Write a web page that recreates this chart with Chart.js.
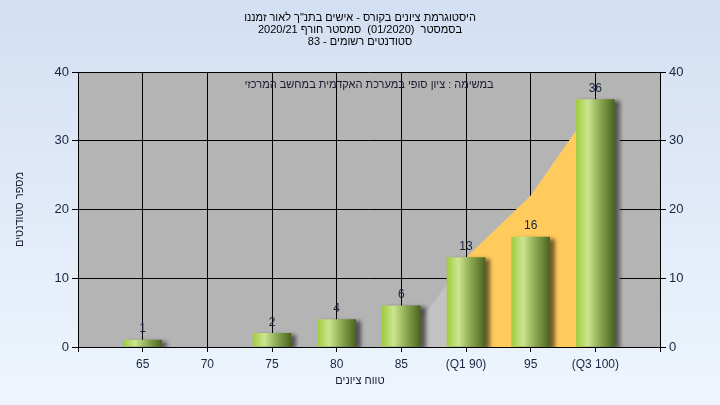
<!DOCTYPE html>
<html lang="he">
<head>
<meta charset="utf-8">
<title>היסטוגרמת ציונים</title>
<script src="https://cdn.jsdelivr.net/npm/chart.js@4.4.1/dist/chart.umd.min.js"></script>
<style>
  html, body { margin: 0; padding: 0; }
  body { width: 720px; height: 405px; overflow: hidden; background: linear-gradient(#d3dff2, #eef5fd); }
</style>
</head>
<body>
<canvas id="histChart" width="720" height="405"></canvas>
<script>
// נתוני ההיסטוגרמה
const scores = [65, 70, 75, 80, 85, 90, 95, 100];
const tickLabels = ['65', '70', '75', '80', '85', '(Q1 90)', '95', '(Q3 100)'];
const studentCounts = [1, 0, 2, 4, 6, 13, 16, 36];

// אזור צהוב (Q1-Q3) ומשטח אפור בהיר מאחוריו
const bandScores = [90, 95, 100];
const bandValues = [13, 22, 35.5];
const shadeScores = [85, 90, 95, 100, 101.9];
const shadeValues = [0, 13, 22, 35.5, 35];

const yTicks = [0, 10, 20, 30, 40];

const titleLines = [
  'היסטוגרמת ציונים בקורס - אישים בתנ"ך לאור זמננו',
  'בסמסטר  (01/2020)  סמסטר חורף 2020/21',
  'סטודנטים רשומים - 83'
];
const noteText = 'במשימה : ציון סופי במערכת האקדמית במחשב המרכזי';
const yTitle = 'מספר סטודנטים';
const xTitle = 'טווח ציונים';

const FONT = '"Liberation Sans", "DejaVu Sans", sans-serif';
const TICK_COLOR = '#1a2440';

function barGradient(ctx) {
  const chart = ctx.chart;
  if (ctx.type !== 'data' || !chart.chartArea) return '#9cc43c';
  const cx = chart.scales.x.getPixelForValue(scores[ctx.dataIndex]);
  const g = chart.ctx.createLinearGradient(cx - 19, 0, cx + 19, 0);
  g.addColorStop(0, '#a0cc40');
  g.addColorStop(0.3, '#cce590');
  g.addColorStop(0.6, '#8fae55');
  g.addColorStop(1, '#4a6420');
  return g;
}

// צל לעמודות
const barShadow = {
  id: 'barShadow',
  beforeDatasetDraw(chart, args) {
    if (args.index !== 0) return;
    const c = chart.ctx;
    c.save();
    c.shadowColor = 'rgba(0,0,0,0.55)';
    c.shadowBlur = 4;
    c.shadowOffsetX = 5;
    c.shadowOffsetY = 2;
  },
  afterDatasetDraw(chart, args) {
    if (args.index !== 0) return;
    chart.ctx.restore();
  }
};

// ערכים מעל העמודות + טקסטים בעברית
const textLayer = {
  id: 'textLayer',
  afterDraw(chart) {
    const c = chart.ctx;
    const xs = chart.scales.x, ys = chart.scales.y;
    const area = chart.chartArea;

    c.save();
    c.font = '12px ' + FONT;
    c.fillStyle = TICK_COLOR;
    c.textAlign = 'center';
    c.textBaseline = 'middle';
    studentCounts.forEach((v, i) => {
      if (!v) return;
      c.fillText(String(v), xs.getPixelForValue(scores[i]), ys.getPixelForValue(v) - 11);
    });

    c.direction = 'rtl';
    c.font = '11px ' + FONT;
    c.fillStyle = '#000';
    titleLines.forEach((t, i) => c.fillText(t, 360, 18 + i * 12));

    c.fillStyle = '#1a1a30';
    c.fillText(noteText, (area.left + area.right) / 2, 85);
    c.fillText(xTitle, 360, 381);

    c.translate(20, (area.top + area.bottom) / 2);
    c.rotate(-Math.PI / 2);
    c.fillText(yTitle, 0, 0);
    c.restore();
  }
};

const yTickOpts = {
  stepSize: 10,
  padding: 3,
  color: TICK_COLOR,
  font: { family: FONT, size: 13 }
};

new Chart(document.getElementById('histChart'), {
  type: 'bar',
  data: {
    datasets: [
      {
        type: 'bar',
        data: scores.map((s, i) => ({ x: s, y: studentCounts[i] > 0 ? studentCounts[i] : null })),
        backgroundColor: barGradient,
        borderWidth: 0,
        barThickness: 38,
        order: 0
      },
      {
        type: 'line',
        data: bandScores.map((s, i) => ({ x: s, y: bandValues[i] })),
        backgroundColor: '#ffcb5c',
        borderColor: 'transparent',
        borderWidth: 0,
        pointRadius: 0,
        fill: 'origin',
        order: 1
      },
      {
        type: 'line',
        data: shadeScores.map((s, i) => ({ x: s, y: shadeValues[i] })),
        backgroundColor: '#c2c2c2',
        borderColor: 'transparent',
        borderWidth: 0,
        pointRadius: 0,
        fill: 'origin',
        order: 2
      }
    ]
  },
  options: {
    responsive: false,
    animation: false,
    layout: { padding: { top: 72, left: 0, right: 0, bottom: 0 } },
    plugins: {
      legend: { display: false },
      tooltip: { enabled: false }
    },
    scales: {
      x: {
        type: 'linear',
        min: 60,
        max: 105,
        offset: false,
        afterFit: s => { s.height = 58; },
        grid: { color: '#000', lineWidth: 1, tickLength: 5, offset: false },
        border: { color: '#000' },
        ticks: {
          stepSize: 5,
          autoSkip: false,
          maxRotation: 0,
          padding: 5,
          color: TICK_COLOR,
          font: { family: FONT, size: 12 },
          callback: v => {
            const i = scores.indexOf(v);
            return i < 0 ? '' : tickLabels[i];
          }
        }
      },
      y: {
        position: 'left',
        min: yTicks[0],
        max: yTicks[yTicks.length - 1],
        afterFit: s => { s.width = 78; },
        grid: { color: '#000', lineWidth: 1, tickLength: 6 },
        border: { color: '#000' },
        ticks: yTickOpts
      },
      y2: {
        position: 'right',
        min: yTicks[0],
        max: yTicks[yTicks.length - 1],
        afterFit: s => { s.width = 60; },
        grid: { drawOnChartArea: false, color: '#000', tickLength: 6 },
        border: { color: '#000' },
        ticks: yTickOpts
      }
    }
  },
  plugins: [barShadow, textLayer, {
    id: 'plotBg',
    beforeDraw(chart) {
      const a = chart.chartArea;
      chart.ctx.save();
      chart.ctx.fillStyle = '#b4b4b4';
      chart.ctx.fillRect(a.left, a.top, a.right - a.left, a.bottom - a.top);
      chart.ctx.restore();
    }
  }]
});
</script>
</body>
</html>
